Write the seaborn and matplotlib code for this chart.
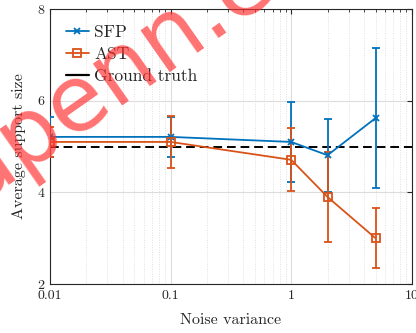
import numpy as np
import pandas as pd
import seaborn as sns
import matplotlib
matplotlib.use("Agg")
import matplotlib.pyplot as plt
from matplotlib.ticker import FixedLocator, LogLocator, NullFormatter, FixedFormatter

# ---- data ----
noise = [0.01, 0.1, 1, 2, 5]
sfp_mean = [5.21, 5.21, 5.10, 4.81, 5.62]
sfp_err = [0.44, 0.44, 0.88, 0.80, 1.52]
ast_mean = [5.10, 5.10, 4.71, 3.90, 3.00]
ast_err = [0.32, 0.56, 0.69, 0.98, 0.66]
ground_truth = 5
xticks = [0.01, 0.1, 1, 10]
xticklabels = ["0.01", "0.1", "1", "10"]
yticks = [2, 4, 6, 8]

sns.set_theme(style="white")
plt.rcParams["font.family"] = ["cmr10", "DejaVu Serif"]
plt.rcParams["axes.formatter.use_mathtext"] = True
plt.rcParams["mathtext.fontset"] = "cm"

blue = "#0072BD"
orange = "#D95319"

df = pd.DataFrame({
    "noise": noise * 2,
    "val": sfp_mean + ast_mean,
    "method": ["SFP"] * len(noise) + ["AST"] * len(noise),
})

fig = plt.figure(figsize=(4.16, 3.33), dpi=100)
ax = fig.add_axes([0.120, 0.147, 0.870, 0.826])

ax.errorbar(noise, sfp_mean, yerr=sfp_err, fmt="none", ecolor=blue, elinewidth=1.3, capsize=2.6, capthick=1.3, zorder=3)
ax.errorbar(noise, ast_mean, yerr=ast_err, fmt="none", ecolor=orange, elinewidth=1.3, capsize=2.6, capthick=1.3, zorder=3)

sns.lineplot(data=df[df.method == "SFP"], x="noise", y="val", ax=ax, color=blue, marker="x",
             markersize=5, markeredgewidth=1.3, markeredgecolor=blue, linewidth=1.3, label="SFP", zorder=4)
sns.lineplot(data=df[df.method == "AST"], x="noise", y="val", ax=ax, color=orange, marker="s",
             markersize=6, markerfacecolor="none", markeredgecolor=orange, markeredgewidth=1.3,
             linewidth=1.3, label="AST", zorder=4)
ax.axhline(ground_truth, color="black", linestyle=(0, (4.5, 2.5)), linewidth=1.4, zorder=2)
ax.plot([], [], color="black", linewidth=1.6, label="Ground truth")

ax.set_xscale("log")
ax.set_xlim(0.01, 10)
ax.set_ylim(2, 8)
ax.xaxis.set_major_locator(FixedLocator(xticks))
ax.xaxis.set_major_formatter(FixedFormatter(xticklabels))
ax.xaxis.set_minor_locator(LogLocator(base=10, subs=np.arange(2, 10)))
ax.xaxis.set_minor_formatter(NullFormatter())
ax.set_yticks(yticks)
ax.set_yticklabels([str(v) for v in yticks])

ax.grid(which="major", axis="both", color="#dcdcdc", linewidth=0.8, linestyle="-")
ax.grid(which="minor", axis="x", color="#e0e0e0", linewidth=0.7, linestyle=(0, (1, 1.5)))
ax.set_axisbelow(True)

ax.tick_params(which="both", direction="in", top=True, right=True, colors="#262626",
               labelsize=10, labelcolor="#262626")
ax.tick_params(which="major", length=3.5, width=0.8, pad=4)
ax.tick_params(which="minor", length=2, width=0.6)
for s in ax.spines.values():
    s.set_color("#262626")
    s.set_linewidth(0.8)

ax.set_xlabel("Noise variance", fontsize=11.5, color="#262626", labelpad=8)
ax.set_ylabel("Average support size", fontsize=11.5, color="#262626", labelpad=8)

leg = ax.legend(loc="upper left", frameon=False, fontsize=12.5, handlelength=1.35,
                handletextpad=0.3, labelspacing=0.4, borderaxespad=0.5)
for t in leg.get_texts():
    t.set_color("#262626")

# watermark
fig.text(-0.065, 0.385, "upenn.edu", fontsize=66, color="#ff3030", alpha=0.68, rotation=35,
         rotation_mode="anchor", ha="left", va="baseline", family="DejaVu Sans", zorder=10)

fig.savefig("out.png", dpi=100)
